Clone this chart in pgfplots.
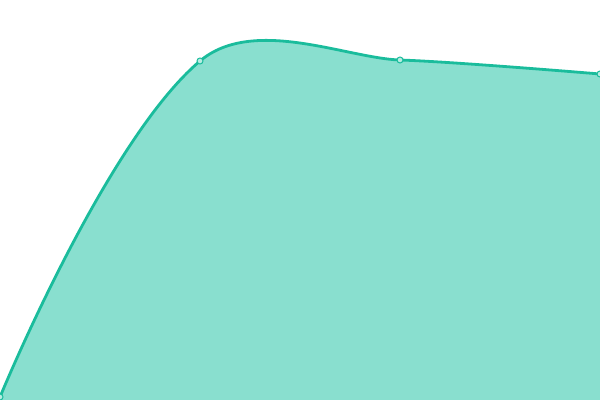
\documentclass[border=0pt]{standalone}
\usepackage{pgfplots}
\pgfplotsset{compat=1.18}
\definecolor{teal1}{RGB}{26,188,156}
\definecolor{mint}{RGB}{137,223,207}

% one table for the series, y counted up from the bottom edge
\pgfplotstableread{
x y
0 3
1 339
2 340
3 326
}\series

\pgfplotsset{
	seg/.style={
		scale only axis, hide axis,
		anchor=south west,
		height=400bp,
		ymin=0, ymax=400,
		clip=true,
	},
}

\begin{document}
\begin{tikzpicture}
	% first stretch, the curve bends with a longer arm at the second point
	\begin{axis}[seg, name=left, at={(0,0)},
		width=201bp, xmin=0, xmax=1.005]
		\addplot [draw=none, fill=mint, smooth, tension=0.85]
		table {\series} \closedcycle;
		\addplot [teal1, line width=2.8bp, smooth, tension=0.85]
		table {\series};
	\end{axis}
	% rest of the series
	\begin{axis}[seg, name=right, at={(200bp,0)},
		width=400bp, xmin=1, xmax=3]
		\addplot [draw=none, fill=mint, smooth, tension=0.48]
		table {\series} \closedcycle;
		\addplot [teal1, line width=2.8bp, smooth, tension=0.48]
		table {\series};
	\end{axis}
	% point marks over both
	\begin{axis}[seg, name=marks, at={(0,0)},
		width=600bp, xmin=0, xmax=3]
		\addplot [only marks, mark=*, mark size=3bp,
			mark options={fill=mint!60!white, draw=teal1, line width=1bp}]
		table {\series};
	\end{axis}
	\pgfresetboundingbox
	\path (marks.south west) rectangle (marks.north east);
\end{tikzpicture}
\end{document}
